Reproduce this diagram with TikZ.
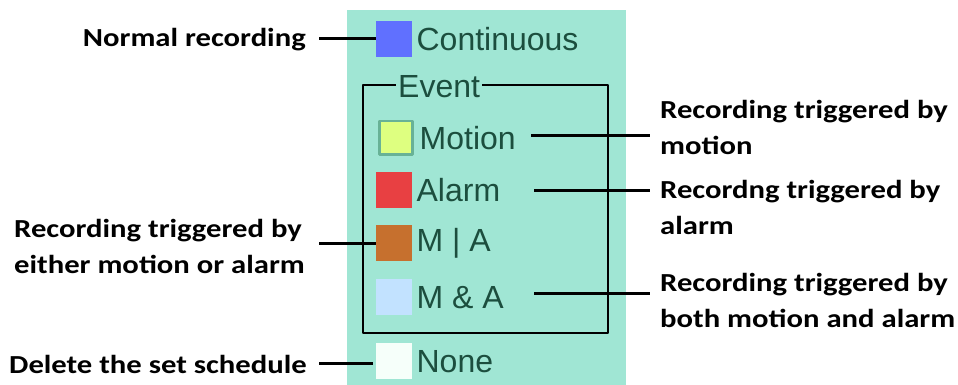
\documentclass[tikz,border=0pt]{standalone}
\usepackage{fontspec}
\setmainfont{Liberation Sans}
\newfontfamily\notefont[FakeStretch=1.18]{Carlito}
\usetikzlibrary{positioning}
\definecolor{mint}{RGB}{160,230,212}
\definecolor{panelink}{RGB}{28,78,62}
\definecolor{contblue}{RGB}{96,112,255}
\definecolor{motionyel}{RGB}{222,255,128}
\definecolor{motionrim}{RGB}{104,178,150}
\definecolor{alarmred}{RGB}{232,64,66}
\definecolor{orbrown}{RGB}{198,112,46}
\definecolor{andblue}{RGB}{194,226,255}
\definecolor{nonewhite}{RGB}{246,255,250}
\tikzset{
  swatch/.style={minimum size=36pt, inner sep=0pt, anchor=north west},
  keytext/.style={font=\fontsize{32}{32}\selectfont, text=panelink, inner sep=0pt, right=4pt of #1},
  note/.style={font=\notefont\bfseries\fontsize{26}{36}\selectfont, align=left, inner sep=0pt},
  lead/.style={line width=3pt}
}
\begin{document}
\begin{tikzpicture}[x=1pt, y=-1pt, line join=round]
  \useasboundingbox (0,0) rectangle (958,385);
  \fill[mint] (347,10) rectangle (626,385);
  % event frame
  \draw[line width=2.8pt] (363,85) rectangle (608,333);
  \node[fill=mint, inner xsep=2pt, inner ysep=0pt, text=panelink, font=\fontsize{32}{32}\selectfont, anchor=west] (event) at (396,87) {Event};
  % swatches
  \node[swatch, fill=contblue] (cont) at (376,21) {};
  \node[swatch, fill=motionyel, draw=motionrim, line width=2.5pt, minimum size=33pt] (motion) at (378,120) {};
  \node[swatch, fill=alarmred] (alarm) at (376,172) {};
  \node[swatch, fill=orbrown] (mora) at (376,225) {};
  \node[swatch, fill=andblue] (mand) at (376,279) {};
  \node[swatch, fill=nonewhite] (none) at (376,343) {};
  \node[keytext=cont] (conttext) {Continuous};
  \node[keytext=motion, right=6pt of motion] (motiontext) {Motion};
  \node[keytext=alarm] (alarmtext) {Alarm};
  \node[keytext=mora] (moratext) {M | A};
  \node[keytext=mand] (mandtext) {M \& A};
  \node[keytext=none] (nonetext) {None};
  % notes, left
  \node[note, anchor=east] (normalnote) at (306,40) {Normal recording};
  \node[note, anchor=west] (oranote) at (14,246) {Recording triggered by\\either motion or alarm};
  \node[note, anchor=east] (deletenote) at (307,364) {Delete the set schedule};
  % notes, right
  \node[note, anchor=west] (motionnote) at (660,127) {Recording triggered by\\motion};
  \node[note, anchor=west] (alarmnote) at (660,207) {Recordng triggered by\\alarm};
  \node[note, anchor=west] (andnote) at (660,300) {Recording triggered by\\both motion and alarm};
  % leaders
  \coordinate (normalpin) at (319,39);
  \coordinate (deletepin) at (319,363);
  \coordinate (motionpin) at (531,136);
  \coordinate (alarmpin) at (534,190);
  \coordinate (andpin) at (534,293);
  \coordinate (orapin) at (319,243);
  \draw[lead] (normalpin) -- (normalpin -| cont.west);
  \draw[lead] (orapin) -- (orapin -| mora.west);
  \draw[lead] (deletepin) -- ([xshift=-3pt]deletepin -| none.west);
  \draw[lead] (motionpin) -- ([xshift=-10pt]motionpin -| motionnote.west);
  \draw[lead] (alarmpin) -- ([xshift=-10pt]alarmpin -| alarmnote.west);
  \draw[lead] (andpin) -- ([xshift=-10pt]andpin -| andnote.west);
\end{tikzpicture}
\end{document}
